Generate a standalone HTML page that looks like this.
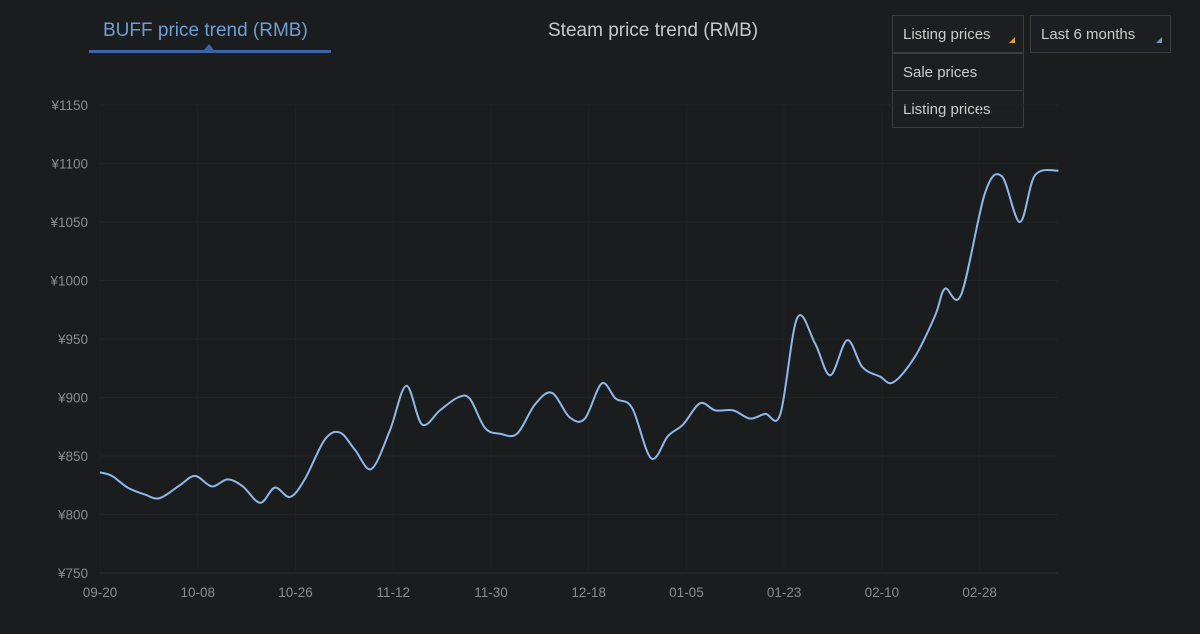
<!DOCTYPE html>
<html><head><meta charset="utf-8"><style>
body{margin:0;width:1200px;height:634px;background:#1b1c1e;font-family:"Liberation Sans",sans-serif;overflow:hidden;position:relative}
.tab{position:absolute;top:20px;font-size:19px}
.dd{position:absolute;border:1px solid #3a3c40;background:#1d1e21;color:#ccc;font-size:15px;box-sizing:border-box}
</style></head><body>
<div class="tab" style="left:103px;color:#6d9fd6">BUFF price trend (RMB)</div>
<div style="position:absolute;left:89px;top:50px;width:242px;height:3px;background:#3e63a8"></div>
<div style="position:absolute;left:204px;top:44px;width:0;height:0;border-left:5px solid transparent;border-right:5px solid transparent;border-bottom:6px solid #3e63a8"></div>
<div class="tab" style="left:548px;color:#c8c8c8">Steam price trend (RMB)</div>
<div class="dd" style="left:892px;top:15px;width:132px;height:38px;padding:10px 10px">Listing prices<span style="position:absolute;right:8px;bottom:9px;width:0;height:0;border-left:6px solid transparent;border-bottom:6px solid #e0a030"></span></div>
<div class="dd" style="left:1030px;top:15px;width:141px;height:38px;padding:10px 10px">Last 6 months<span style="position:absolute;right:8px;bottom:9px;width:0;height:0;border-left:6px solid transparent;border-bottom:6px solid #7d93b8"></span></div>
<div class="dd" style="left:892px;top:53px;width:132px;height:38px;padding:10px 10px">Sale prices</div>
<div class="dd" style="left:892px;top:90px;width:132px;height:38px;padding:10px 10px">Listing prices</div>
<svg id="c" width="1200" height="634" style="position:absolute;left:0;top:0;pointer-events:none"></svg>
<script>
const yTicks=[750,800,850,900,950,1000,1050,1100,1150];
const xTickLabels=["09-20","10-08","10-26","11-12","11-30","12-18","01-05","01-23","02-10","02-28"];
const xTickDays=[0,18,36,54,72,90,108,126,144,162];
const days=[0,2.2,5.1,8.3,11,14.7,17.5,20.6,23.5,26.3,29.5,32.2,35,37.7,41.4,44.2,47,50,53.4,56.4,59.3,62.6,65.9,68.1,70.9,73.7,76.8,80.1,83.2,86.5,89.3,92.4,95,98,101.5,104.6,107.4,110.5,113.3,116.6,119.7,122.5,125.3,128.4,131.7,134.5,137.6,140.4,143.6,146.1,150.1,153.8,155.6,158.6,163,166.1,169.4,172.2,176.5];
const prices=[836,833,823,817,814,825,833,824,830,824,810,823,815,830,864,870,855,839,872,910,877,889,900,899,874,869,869,894,904,883,882,912,899,891,848,867,877,895,889,889,882,886,886,968,946,919,949,926,918,913,935,970,993,988,1075,1089,1050,1090,1094];
const svg=document.getElementById('c'),NS='http://www.w3.org/2000/svg';
const X=d=>100+d*5.43, Y=v=>573-(v-750)*468/400;
function mk(t,a){const e=document.createElementNS(NS,t);for(const k in a)e.setAttribute(k,a[k]);svg.appendChild(e);return e;}
yTicks.forEach(v=>{
 const g=mk('line',{x1:100,x2:1058,y1:Y(v),y2:Y(v),stroke:v==750?'#2c2e31':'#212326','stroke-width':1});
 
 
 const t=mk('text',{x:88,y:Y(v)+5,'text-anchor':'end',fill:'#8a8c90','font-size':13.5,'font-family':'Liberation Sans'});
 t.textContent='¥'+v;
 
 
});
xTickDays.forEach((d,i)=>{
 const g=mk('line',{x1:X(d),x2:X(d),y1:105,y2:573,stroke:'#1f2124','stroke-width':1});
 
 
 const t=mk('text',{x:X(d),y:597,'text-anchor':'middle',fill:'#8a8c90','font-size':13.5,'font-family':'Liberation Sans'});
 t.textContent=xTickLabels[i];
 
 
});
const P=days.map((d,i)=>[X(d),Y(prices[i])]);
let s='M'+P[0][0]+','+P[0][1];
for(let i=0;i<P.length-1;i++){const p0=P[i-1]||P[i],p1=P[i],p2=P[i+1],p3=P[i+2]||p2;
 s+=` C${p1[0]+(p2[0]-p0[0])/6},${p1[1]+(p2[1]-p0[1])/6} ${p2[0]-(p3[0]-p1[0])/6},${p2[1]-(p3[1]-p1[1])/6} ${p2[0]},${p2[1]}`;}
const l=mk('path',{d:s,fill:'none',stroke:'#8fb8ea','stroke-width':2});


</script>
</body></html>
